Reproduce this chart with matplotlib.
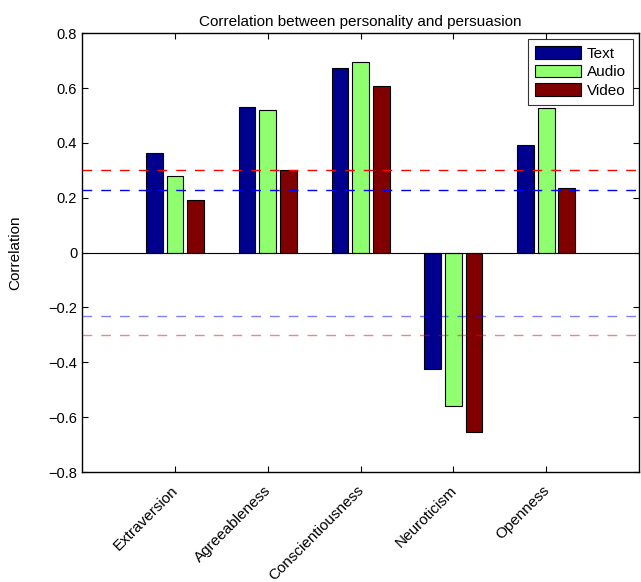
import numpy as np
import matplotlib
matplotlib.use("Agg")
import matplotlib.pyplot as plt

plt.rcParams['font.family'] = ['Liberation Sans', 'DejaVu Sans']
plt.rcParams['axes.unicode_minus'] = True

traits = ['Extraversion', 'Agreeableness', 'Conscientiousness', 'Neuroticism', 'Openness']
text_vals = [0.364, 0.532, 0.674, -0.426, 0.392]
audio_vals = [0.279, 0.519, 0.695, -0.559, 0.529]
video_vals = [0.191, 0.301, 0.606, -0.655, 0.235]
series_names = ['Text', 'Audio', 'Video']
colors = ['#00008f', '#8fff6f', '#800000']
thresh_red = 0.3
thresh_blue = 0.23

fig = plt.figure(figsize=(6.41, 5.82), dpi=100)
ax = fig.add_axes([0.128, 0.189, 0.869, 0.754])

x = np.arange(1, len(traits) + 1)
w = 0.18
step = 0.222
for k, vals in enumerate([text_vals, audio_vals, video_vals]):
    ax.bar(x + (k - 1) * step, vals, width=w, color=colors[k], edgecolor='black',
           linewidth=0.8, label=series_names[k], zorder=2)

dash = (0, (7, 6.5))
ax.axhline(0, color='black', linewidth=0.8, zorder=3)
ax.axhline(thresh_red, color='red', ls=dash, lw=1, zorder=4)
ax.axhline(thresh_blue, color='blue', ls=dash, lw=1, zorder=4)
ax.axhline(-thresh_blue, color='blue', ls=dash, lw=1, alpha=0.5, zorder=4)
ax.axhline(-thresh_red, color='red', ls=dash, lw=1, alpha=0.5, zorder=4)

ax.set_xlim(0, 6)
ax.set_ylim(-0.8, 0.8)
ax.set_xticks(x)
ax.set_xticklabels([])
# rotated labels ending just left of each tick
for i, name in enumerate(traits):
    ax.text(x[i] - 0.04, -0.842, name, rotation=45, ha='right', va='top',
            rotation_mode='anchor', fontsize=11)
yt = np.arange(-0.8, 0.81, 0.2)
ax.set_yticks(yt)
ax.set_yticklabels([('%g' % v).replace('-', '\u2212') if abs(v) > 1e-9 else '0' for v in yt],
                   fontsize=10.5)
ax.tick_params(direction='in', top=True, right=True, length=4)
for s in ax.spines.values():
    s.set_linewidth(1.0)

ax.set_ylabel('Correlation', fontsize=11, labelpad=19)
ax.set_title('Correlation between personality and persuasion', fontsize=11, pad=5)

leg = ax.legend(loc='upper right', fontsize=11, fancybox=False, edgecolor='black',
                borderaxespad=0.4, handlelength=3.0, handleheight=0.9,
                labelspacing=0.25, borderpad=0.45, handletextpad=0.4)
leg.get_frame().set_linewidth(0.8)

fig.savefig('out.png', dpi=100)
